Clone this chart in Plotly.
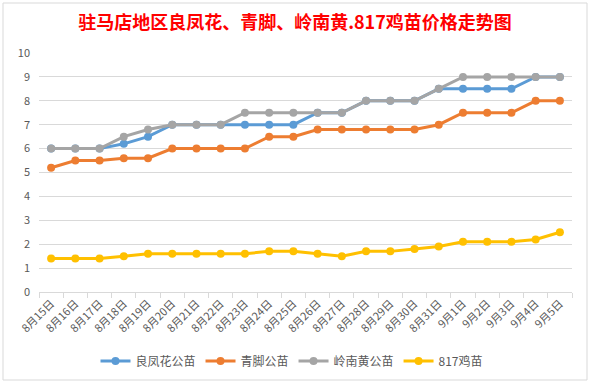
import plotly.graph_objects as go

dates = ["8月15日","8月16日","8月17日","8月18日","8月19日","8月20日","8月21日","8月22日","8月23日",
         "8月24日","8月25日","8月26日","8月27日","8月28日","8月29日","8月30日","8月31日",
         "9月1日","9月2日","9月3日","9月4日","9月5日"]
liangfenghua = [6,6,6,6.2,6.5,7,7,7,7,7,7,7.5,7.5,8,8,8,8.5,8.5,8.5,8.5,9,9]
qingjiao = [5.2,5.5,5.5,5.6,5.6,6,6,6,6,6.5,6.5,6.8,6.8,6.8,6.8,6.8,7,7.5,7.5,7.5,8,8]
lingnanhuang = [6,6,6,6.5,6.8,7,7,7,7.5,7.5,7.5,7.5,7.5,8,8,8,8.5,9,9,9,9,9]
chick817 = [1.4,1.4,1.4,1.5,1.6,1.6,1.6,1.6,1.6,1.7,1.7,1.6,1.5,1.7,1.7,1.8,1.9,2.1,2.1,2.1,2.2,2.5]

series = [
    ("良凤花公苗", liangfenghua, "#5B9BD5"),
    ("青脚公苗", qingjiao, "#ED7D31"),
    ("岭南黄公苗", lingnanhuang, "#A5A5A5"),
    ("817鸡苗", chick817, "#FFC000"),
]

fig = go.Figure()
for name, vals, color in series:
    fig.add_trace(go.Scatter(x=dates, y=vals, name=name, mode="lines+markers",
                             line=dict(color=color, width=3),
                             marker=dict(color=color, size=8)))

W, H = 590, 384
ml, mr, mt, mb = 39, 18, 53, 92
pw, ph = W - ml - mr, H - mt - mb
def px(x): return (x - ml) / pw
def py(y): return (H - mb - y) / ph

fig.update_layout(
    width=W, height=H,
    margin=dict(l=ml, r=mr, t=mt, b=mb, autoexpand=False),
    paper_bgcolor="white", plot_bgcolor="white",
    font=dict(family="Noto Sans CJK SC, sans-serif", color="#595959", size=11),
    title=dict(text="<b>驻马店地区良凤花、青脚、岭南黄.817鸡苗价格走势图</b>",
               x=295/W, xref="container", xanchor="center", y=1 - 23/H, yanchor="middle",
               font=dict(color="#FF0000", size=18, family="Noto Sans CJK SC, sans-serif")),
    showlegend=True,
    legend=dict(orientation="h", x=px(292), xanchor="center", y=py(361), yanchor="middle",
                font=dict(size=12, color="#595959"), itemwidth=30, tracegroupgap=0),
    xaxis=dict(type="category", tickangle=-45, showgrid=False, showline=True, automargin=False,
               linecolor="#D9D9D9", linewidth=1, ticks="outside", tickson="boundaries",
               ticklen=5, tickcolor="#D9D9D9", tickfont=dict(size=11, color="#595959"),
               range=[-0.5, len(dates) - 0.5]),
    yaxis=dict(range=[0, 10], dtick=1, showgrid=True, gridcolor="#D9D9D9", gridwidth=1,
               automargin=False, zeroline=False, showline=False,
               tickfont=dict(size=11, color="#595959"), ticklabelstandoff=8),
    shapes=[dict(type="rect", xref="paper", yref="paper",
                 x0=px(3), x1=px(587), y0=py(380), y1=py(3),
                 line=dict(color="#D9D9D9", width=1), layer="below")],
)

fig.write_html("out.html", config={"displayModeBar": False},
               post_script="document.body.style.margin='0';document.body.style.overflow='hidden';")
